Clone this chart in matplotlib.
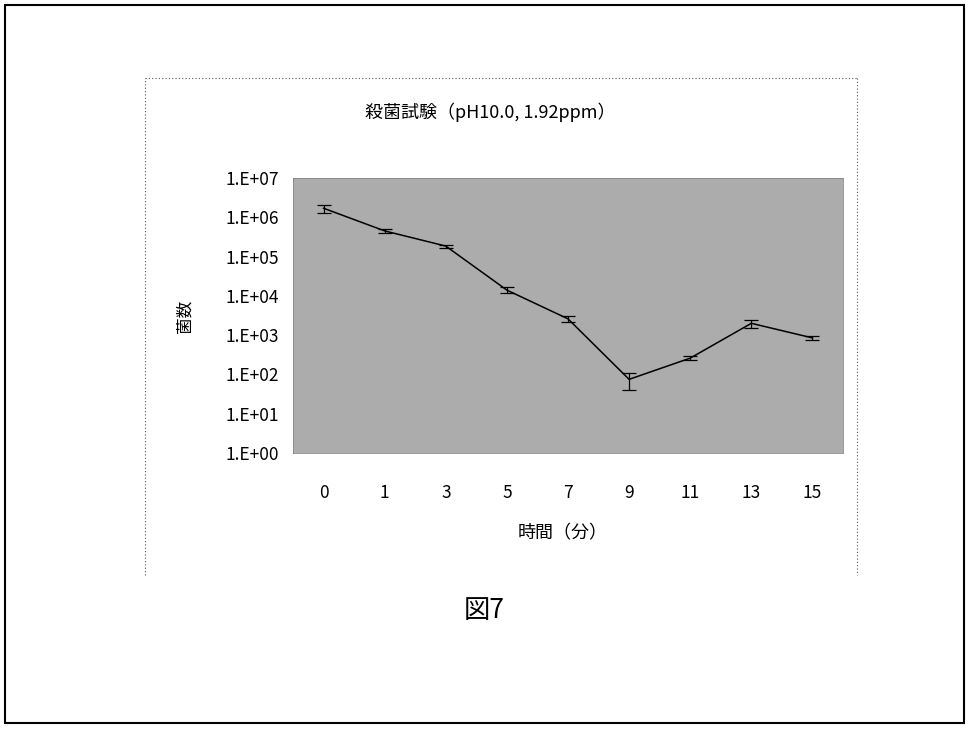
import math
import matplotlib
matplotlib.use('Agg')
import matplotlib.pyplot as plt
from matplotlib.lines import Line2D
from matplotlib.patches import Rectangle
from matplotlib.ticker import FixedLocator, FuncFormatter

plt.rcParams['font.family'] = ['Noto Sans CJK JP', 'DejaVu Sans']

# data
times = ['0', '1', '3', '5', '7', '9', '11', '13', '15']
counts = [1.7e6, 4.5e5, 1.85e5, 1.4e4, 2.6e3, 75, 260, 2.0e3, 850]
errors = [4.0e5, 6.0e4, 1.5e4, 2.5e3, 4.0e2, 35, 30, 5.0e2, 100]

fig = plt.figure(figsize=(9.66, 7.29), dpi=100)

# outer frame and dotted chart area
fig.patches.append(Rectangle((5 / 966, 1 - 723 / 729), 959 / 966, 718 / 729,
                             transform=fig.transFigure, fill=False,
                             edgecolor='black', linewidth=1.5))
x0, x1 = 145 / 966, 857 / 966
y0, y1 = 1 - 575 / 729, 1 - 78 / 729
for xs, ys in [([x0, x0], [y0, y1]), ([x0, x1], [y1, y1]), ([x1, x1], [y1, y0])]:
    fig.lines.append(Line2D(xs, ys, transform=fig.transFigure, color='#555555',
                            linestyle=(0, (1, 2)), linewidth=0.8))

ax = fig.add_axes([293 / 966, 1 - 453 / 729, 550 / 966, 275 / 729])
ax.set_facecolor('#acacac')
pos = list(range(len(times)))
ax.errorbar(pos, counts, yerr=errors, color='black', linewidth=1.1,
            capsize=5, elinewidth=0.9, capthick=0.9)
ax.set_yscale('log')
ax.set_ylim(1, 1e7)
ax.set_xlim(-0.5, len(times) - 0.5)
ax.set_xticks(pos)
ax.set_xticklabels(times)
ax.yaxis.set_major_locator(FixedLocator([10 ** i for i in range(8)]))
ax.yaxis.set_minor_locator(FixedLocator([]))
ax.yaxis.set_major_formatter(FuncFormatter(lambda v, p: '1.E+%02d' % round(math.log10(v))))
ax.tick_params(length=0, labelsize=12.5)
ax.tick_params(axis='x', pad=22)
ax.tick_params(axis='y', pad=10)
for s in ax.spines.values():
    s.set_color('#888888')
    s.set_linewidth(0.6)

fig.text(490 / 966, 1 - 112 / 729, '殺菌試験（pH10.0, 1.92ppm）', ha='center', va='center', fontsize=13)
fig.text(185 / 966, 1 - 316 / 729, '菌数', ha='center', va='center', rotation=90, fontsize=12)
fig.text(563 / 966, 1 - 533 / 729, '時間（分）', ha='center', va='center', fontsize=13)
fig.text(484 / 966, 1 - 610 / 729, '図7', ha='center', va='center', fontsize=19)

fig.savefig('out.png', dpi=100)
